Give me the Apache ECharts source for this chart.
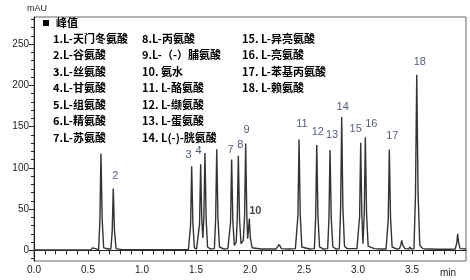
<!DOCTYPE html>
<html>
<head>
<meta charset="utf-8">
<script src="https://cdn.jsdelivr.net/npm/echarts@6/dist/echarts.min.js"></script>
<style>html,body{margin:0;padding:0;background:#fff;}#c{width:470px;height:280px;}</style>
</head>
<body>
<div id="c"></div>
<script>
// ---- data ----
// chromatogram trace: [time (min), signal (mAU)]
const trace = [
  [0,0.3],[0.3,0.4],[0.5,0.5],
  [0.525,0.5],[0.543,3],[0.56,0.6],
  [0.598,0.8],[0.61,35],[0.62,117.5],[0.631,38],[0.645,3],
  [0.69,1.5],
  [0.712,1.5],[0.724,23],[0.734,75],[0.745,24],[0.76,2],
  [0.815,0.8],[0.833,3],[0.85,0.8],
  [0.95,0.6],
  [1.06,0.6],[1.074,2.5],[1.09,0.6],
  [1.3,0.8],[1.43,0.9],
  [1.438,1],[1.45,31],[1.46,102],[1.471,33],[1.485,3],
  [1.505,1.5],
  [1.522,2],[1.533,32],[1.543,104.5],[1.553,40],[1.563,15],
  [1.573,40],[1.583,118],[1.594,38],[1.607,4],
  [1.635,1.5],
  [1.67,2],[1.682,38],[1.692,122.7],[1.703,40],[1.717,4],
  [1.76,1.5],[1.795,2],
  [1.808,2.5],[1.82,34],[1.83,110],[1.841,36],[1.855,6],
  [1.862,5],
  [1.872,10],[1.882,38],[1.892,114.6],[1.903,38],[1.917,8],
  [1.925,7],
  [1.938,12],[1.95,42],[1.96,129.6],[1.97,45],[1.978,14],
  [1.986,25],[1.994,38.5],[2.003,15],[2.02,3],
  [2.1,1.5],[2.24,1.5],
  [2.255,2.5],[2.271,7],[2.29,2],
  [2.36,1.5],[2.42,2],
  [2.432,2.5],[2.444,42],[2.454,134.5],[2.465,44],[2.48,4],
  [2.55,1.5],
  [2.596,2],[2.608,40],[2.618,127.6],[2.629,42],[2.644,4],
  [2.68,1.5],
  [2.719,2],[2.731,38],[2.741,121.5],[2.752,40],[2.767,4],
  [2.8,1.5],
  [2.827,2],[2.839,50],[2.849,161.6],[2.86,52],[2.875,5],
  [2.9,2],[2.95,2],[2.99,2],
  [3.003,2.5],[3.015,41],[3.025,130.4],[3.035,45],[3.046,8],
  [3.058,45],[3.068,137],[3.079,45],[3.094,5],
  [3.15,2],[3.2,1.5],[3.26,1.5],
  [3.268,2],[3.28,38],[3.29,122.3],[3.301,40],[3.316,4],
  [3.36,1.5],
  [3.385,2],[3.397,7],[3.405,12],[3.415,6],[3.435,2],
  [3.47,1.5],[3.48,4],[3.492,1.5],
  [3.518,2],[3.532,65],[3.544,213],[3.556,70],[3.572,6],
  [3.6,2],
  [3.625,1.5],[3.636,3],[3.65,1.5],
  [3.75,1.2],[3.85,1.2],[3.9,1.5],
  [3.905,2],[3.915,9],[3.923,20],[3.932,9],[3.945,2],
  [4.0,1.5]
];
// labelled peaks
const peakLabels = ['2','3','4','7','8','9','10','11','12','13','14','15','16','17','18'];
const peakTimes  = [0.734,1.46,1.543,1.83,1.892,1.96,1.994,2.454,2.618,2.741,2.849,3.025,3.068,3.29,3.544];
const peakHeights= [75,102,104.5,110,114.6,129.6,38.5,134.5,127.6,121.5,161.6,130.4,137,122.3,213];
// legend entries
const legendTitle = '峰值';
const legendCol1 = ['1.L-天门冬氨酸','2.L-谷氨酸','3.L-丝氨酸','4.L-甘氨酸','5.L-组氨酸','6.L-精氨酸','7.L-苏氨酸'];
const legendCol2 = ['8.L-丙氨酸','9.L-（-）脯氨酸','10. 氨水','11. L-酪氨酸','12. L-缬氨酸','13. L-蛋氨酸','14. L(-)-胱氨酸'];
const legendCol3 = ['15. L-异亮氨酸','16. L-亮氨酸','17. L-苯基丙氨酸','18. L-赖氨酸'];
// axes
const yLabelValues = [0,50,100,150,200,250];
const yMinorValues = [-10,0,10,20,30,40,50,60,70,80,90,100,110,120,130,140,150,160,170,180,190,200,210,220,230,240,250,260,270,280];
const yUnit = 'mAU';
const xUnit = 'min';

// ---- styles ----
const labelOffsets = [[2,-12],[-3,-11],[-2,-13],[-1,-10],[2,-11],[1,-13],[6,-8],[3,-15],[1,-13],[2,-15],[1,-10],[-5,-14],[6,-13],[3,-14],[3,-13]];
const labelColor = '#27355e';
const cjkFont = '"Noto Sans CJK SC", sans-serif';
const latinFont = '"Liberation Sans", Arial, sans-serif';

const chart = echarts.init(document.getElementById('c'), null, {renderer:'canvas'});

const graphic = [];
graphic.push({type:'text', left:27, top:4, style:{text:yUnit, fill:'#222', font:'9px ' + latinFont}});
graphic.push({type:'text', left:440, top:268, style:{text:xUnit, fill:'#222', font:'10px ' + latinFont}});
graphic.push({type:'rect', shape:{x:43, y:20, width:6, height:6}, style:{fill:'#000'}});
graphic.push({type:'text', left:56, top:17, style:{text:legendTitle, fill:'#000', font:'bold 11px ' + cjkFont}});
function addCol(arr, x){
  arr.forEach((t,i)=>{
    graphic.push({type:'text', left:x, top:33 + i*16.5, style:{text:t, fill:'#000', font:'bold 11px ' + cjkFont}});
  });
}
addCol(legendCol1, 53);
addCol(legendCol2, 142);
addCol(legendCol3, 242);

const labelData = peakLabels.map((n,i)=>({
  value:[peakTimes[i], peakHeights[i]],
  name:n,
  label:{offset:labelOffsets[i], fontWeight: n==='10' ? 'bold' : 'normal', color: n==='10' ? '#1a1a1a' : labelColor}
}));

chart.setOption({
  animation:false,
  grid:{left:34, right:4, top:17, bottom:19, show:true, borderColor:'#666', borderWidth:1},
  xAxis:{
    type:'value', min:0, max:4, interval:0.1,
    axisLine:{show:true, lineStyle:{color:'#222', width:1}},
    axisTick:{show:true, length:4, inside:false, lineStyle:{color:'#222'}},
    splitLine:{show:false},
    axisLabel:{
      margin:4, fontSize:10, color:'#222', fontFamily:latinFont, showMaxLabel:false,
      formatter:(v)=>{ const k=v*2; if (Math.abs(k-Math.round(k))<1e-6 && v<3.99) return v.toFixed(1); return ''; }
    }
  },
  yAxis:[{
    type:'value', min:-13, max:283,
    axisLine:{show:true, lineStyle:{color:'#222', width:1}},
    axisTick:{show:true, length:3, lineStyle:{color:'#222'}, customValues:yMinorValues},
    axisLabel:{margin:5, fontSize:10, color:'#222', fontFamily:latinFont, customValues:yLabelValues},
    splitLine:{show:false}
  },{
    type:'value', min:-13, max:283, position:'left',
    axisLine:{show:false},
    axisTick:{show:true, length:5, lineStyle:{color:'#222'}, customValues:yLabelValues},
    axisLabel:{show:false},
    splitLine:{show:false}
  }],
  graphic:graphic,
  series:[{
    type:'line', data:trace, showSymbol:false, symbol:'none', smooth:false,
    lineStyle:{color:'#333333', width:1.4}, z:3
  },{
    type:'scatter', data:labelData, symbolSize:0, silent:true,
    label:{show:true, position:'inside', formatter:'{b}', fontSize:11, fontFamily:latinFont, color:labelColor},
    z:4
  }]
});
</script>
</body>
</html>
